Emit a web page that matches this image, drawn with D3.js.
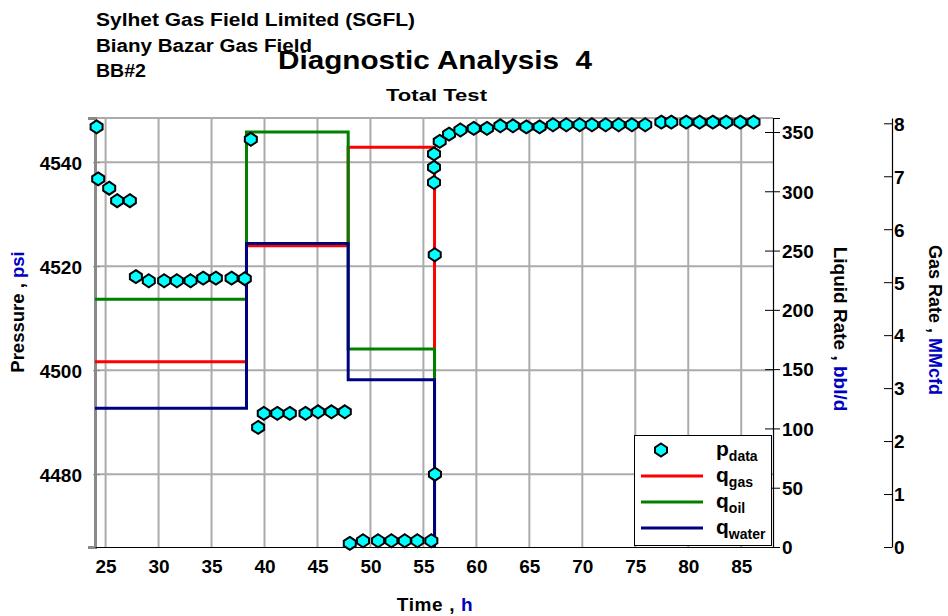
<!DOCTYPE html>
<html><head><meta charset="utf-8">
<script src="https://cdn.jsdelivr.net/npm/d3@7/dist/d3.min.js"></script>
<style>
body{margin:0;background:#fff;}
svg text{font-family:"Liberation Sans",Arial,sans-serif;font-weight:bold;fill:#000;}
</style></head>
<body><svg id="c" width="948" height="616"></svg>
<script>
// ---- data ----
const timeTicks = [25,30,35,40,45,50,55,60,65,70,75,80,85];
const pressureTicks = [4480,4500,4520,4540];
const liquidTicks = [0,50,100,150,200,250,300,350];
const gasTicks = [0,1,2,3,4,5,6,7,8];

const pTime = [24.15,24.30,25.34,26.09,27.29,
  27.86,29.08,30.53,31.73,33.02,34.21,35.41,36.89,38.14,38.71,
  39.40,39.93,41.21,42.39,43.87,45.06,46.32,47.58,
  48.05,49.30,50.72,51.98,53.24,54.43,55.75,56.09,56.07,56.00,56.00,56.00,
  56.54,57.42,58.49,59.75,61.00,62.26,63.45,64.72,65.97,67.23,68.49,69.75,70.91,
  72.20,73.43,74.68,75.94,77.46,78.40,79.81,81.07,82.32,83.58,84.91,86.16];
const pData = [4546.8,4536.8,4535.0,4532.6,4532.6,
  4518.0,4517.2,4517.2,4517.2,4517.2,4517.7,4517.7,4517.7,4517.6,4544.4,
  4489.0,4491.7,4491.7,4491.7,4491.7,4492.0,4492.0,4492.0,
  4466.7,4467.2,4467.2,4467.2,4467.2,4467.2,4467.2,4480.0,4522.2,4536.1,4539.0,4541.6,
  4544.0,4545.4,4546.2,4546.5,4546.5,4547.0,4547.0,4546.8,4546.8,4547.2,4547.2,4547.2,4547.2,
  4547.2,4547.2,4547.2,4547.2,4547.7,4547.7,4547.7,4547.7,4547.7,4547.7,4547.7,4547.7];

const stepTimes = [24.0, 38.3, 47.9, 56.05];
const qGas   = [3.50, 5.69, 7.55, 0];
const qOil   = [209, 350, 167, 0];
const qWater = [117, 256, 141, 0];

// ---- layout ----
const L=95, R=773, T=118, B=547, GX=892;
const svg = d3.select("#c");
const x = d3.scaleLinear().domain([24,88]).range([L,R]);
const yP = d3.scaleLinear().domain([4466,4548.5]).range([B,T]);
const yL = d3.scaleLinear().domain([0,361.8]).range([B,T]);
const yG = d3.scaleLinear().domain([0,8.1]).range([B,T]);

// grid
const grid = svg.append("g").attr("stroke","#ababab").attr("stroke-width",2);
grid.selectAll("line.v").data(timeTicks).join("line").attr("class","v")
  .attr("x1",d=>x(d)).attr("x2",d=>x(d)).attr("y1",T).attr("y2",B);
grid.selectAll("line.h").data(pressureTicks).join("line").attr("class","h")
  .attr("x1",L).attr("x2",R).attr("y1",d=>yP(d)).attr("y2",d=>yP(d));
grid.append("line").attr("x1",L).attr("x2",R).attr("y1",T).attr("y2",T);

// left axis
const axL = svg.append("g").attr("transform",`translate(${L},0)`)
  .call(d3.axisLeft(yP).tickValues(pressureTicks).tickSize(7).tickPadding(6).tickFormat(d3.format("d")));
axL.select(".domain").attr("stroke","#8a8a8a").attr("stroke-width",3);
axL.selectAll(".tick line").attr("stroke","#8a8a8a").attr("x2",-7).attr("transform","translate(5,0)");
axL.selectAll(".tick text").attr("font-size",19).attr("x",-13).attr("dy","0.36em");

// bottom axis
const axB = svg.append("g").attr("transform",`translate(0,${B})`)
  .call(d3.axisBottom(x).tickValues(timeTicks).tickSize(0).tickPadding(13));
axB.select(".domain").attr("stroke","#000").attr("stroke-width",1.2);
axB.selectAll(".tick text").attr("font-size",19);

// liquid axis
const axR = svg.append("g").attr("transform",`translate(${R},0)`)
  .call(d3.axisRight(yL).tickValues(liquidTicks).tickSize(7).tickPadding(2));
axR.select(".domain").attr("stroke","#000").attr("stroke-width",1.2);
axR.selectAll(".tick line").attr("stroke","#000").attr("x1",-8);
axR.selectAll(".tick text").attr("font-size",19).attr("dy","0.36em");

// gas axis
const axG = svg.append("g").attr("transform",`translate(${GX},0)`)
  .call(d3.axisRight(yG).tickValues(gasTicks).tickSize(0).tickPadding(2));
axG.select(".domain").attr("stroke","#000").attr("stroke-width",1.2);
axG.selectAll(".tick line").attr("stroke","#000").attr("x1",-8).attr("x2",0);
axG.selectAll(".tick text").attr("font-size",19).attr("dy","0.36em");

// step lines
function stepPath(vals, ys){
  return d3.line().x(d=>x(d[0])).y(d=>ys(d[1])).curve(d3.curveStepAfter)(stepTimes.map((t,i)=>[t,vals[i]]));
}
svg.append("path").attr("d",stepPath(qGas,yG)).attr("fill","none").attr("stroke","#ff0000").attr("stroke-width",3);
svg.append("path").attr("d",stepPath(qOil,yL)).attr("fill","none").attr("stroke","#008000").attr("stroke-width",3);
svg.append("path").attr("d",stepPath(qWater,yL)).attr("fill","none").attr("stroke","#000080").attr("stroke-width",3);

// markers
const hex = "M0,-6.5L6,-2.5L6,2.5L0,6.5L-6,2.5L-6,-2.5Z";
svg.append("g").selectAll("path").data(pTime.map((t,i)=>[t,pData[i]])).join("path")
  .attr("d",hex).attr("transform",d=>`translate(${x(d[0])},${yP(d[1])})`)
  .attr("fill","#00ffff").attr("stroke","#000").attr("stroke-width",2);

// legend
const lg = svg.append("g");
lg.append("rect").attr("x",634.5).attr("y",435.5).attr("width",137).attr("height",110)
  .attr("fill","#fff").attr("stroke","#000").attr("stroke-width",1);
lg.append("path").attr("d",hex).attr("transform","translate(661,450)")
  .attr("fill","#00ffff").attr("stroke","#000").attr("stroke-width",2);
const legItems = [["p","data",null,450],["q","gas","#ff0000",476],["q","oil","#008000",502],["q","water","#000080",528]];
legItems.forEach(([m,s,c,yy])=>{
  if(c) lg.append("line").attr("x1",641).attr("x2",703).attr("y1",yy).attr("y2",yy).attr("stroke",c).attr("stroke-width",3);
  const t = lg.append("text").attr("x",716).attr("y",yy+6).attr("font-size",21);
  t.append("tspan").text(m);
  t.append("tspan").attr("font-size",14).attr("dy",5).text(s);
});

// titles
function txt(str,xx,yy,size,opts={}){
  const t=svg.append("text").attr("x",xx).attr("y",yy).attr("font-size",size).text(str);
  if(opts.len) t.attr("textLength",opts.len).attr("lengthAdjust","spacingAndGlyphs");
  if(opts.anchor) t.attr("text-anchor",opts.anchor);
  return t;
}
txt("Sylhet Gas Field Limited (SGFL)",96,26,18,{len:319});
txt("Biany Bazar Gas Field",96,52,18,{len:216});
txt("BB#2",96,77,18,{len:50});
txt("Diagnostic Analysis\u00a0\u00a04",278,69,26,{len:314});
txt("Total Test",386,101,17,{len:101});

// axis titles
const tx = svg.append("text").attr("x",435).attr("y",611).attr("text-anchor","middle").attr("font-size",19).attr("letter-spacing","0.6px");
tx.append("tspan").text("Time , ");
tx.append("tspan").style("fill","#0000c0").text("h");

const tp = svg.append("text").attr("transform","translate(24,312) rotate(-90)").attr("text-anchor","middle").attr("font-size",18.5);
tp.append("tspan").text("Pressure , ");
tp.append("tspan").style("fill","#0000c0").text("psi");

const tl = svg.append("text").attr("transform","translate(834,329) rotate(90)").attr("text-anchor","middle").attr("font-size",19);
tl.append("tspan").text("Liquid Rate , ");
tl.append("tspan").style("fill","#0000c0").text("bbl/d");

const tg = svg.append("text").attr("transform","translate(929,320) rotate(90)").attr("text-anchor","middle").attr("font-size",18);
tg.append("tspan").text("Gas Rate , ");
tg.append("tspan").style("fill","#0000c0").text("MMcfd");
</script></body></html>
